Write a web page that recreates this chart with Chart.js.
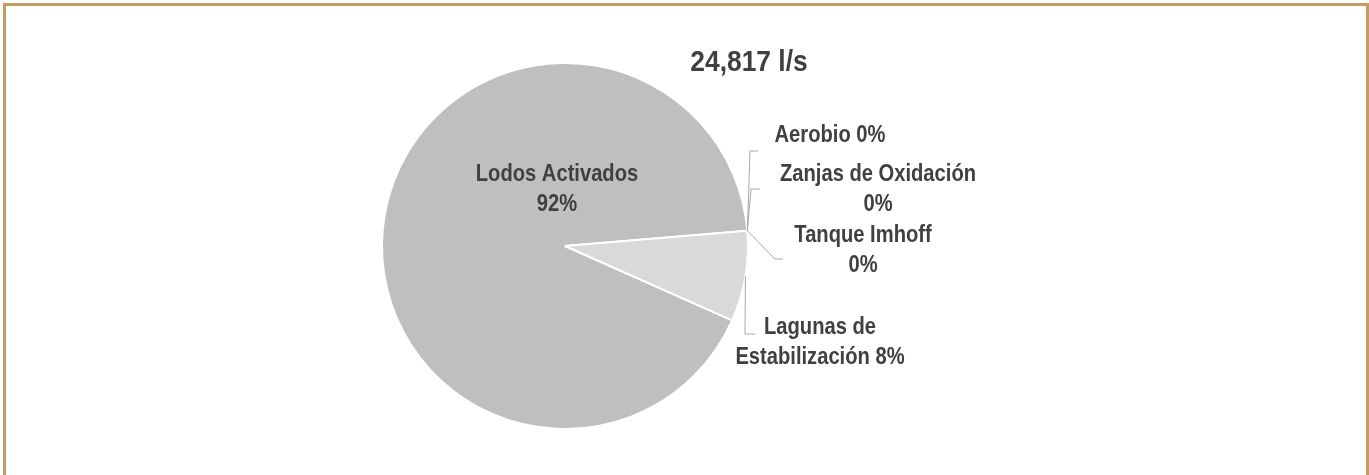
<!DOCTYPE html>
<html>
<head>
<meta charset="utf-8">
<script src="https://cdn.jsdelivr.net/npm/chart.js@4.4.1/dist/chart.umd.min.js"></script>
<style>
  html, body { margin: 0; padding: 0; background: #fff; }
  #wrap { position: relative; width: 1369px; height: 475px; overflow: hidden; }
  #frame {
    position: absolute; left: 3px; top: 3px; width: 1360px; height: 500px;
    border: 3px solid #c49b63; border-bottom: none; pointer-events: none;
  }
  canvas { position: absolute; left: 0; top: 0; }
</style>
</head>
<body>
<div id="wrap">
  <canvas id="pieChart" width="1369" height="475"></canvas>
  <div id="frame"></div>
</div>
<script>
// ---- data ----
const categories = ['Lodos Activados', 'Aerobio', 'Zanjas de Oxidación', 'Tanque Imhoff', 'Lagunas de Estabilización'];
const percentages = [92, 0, 0, 0, 8];
const totalFlow = '24,817 l/s';
// where each label wraps (number of words on the first line, 0 = one line)
const wrapAfter = [2, 0, 3, 2, 2];

const sliceColors = ['#bfbfbf', '#bfbfbf', '#bfbfbf', '#bfbfbf', '#d9d9d9'];
const textColor = '#404040';
const lineColor = '#a6a6a6';
const FONT = '"Liberation Sans", Arial, sans-serif';

// label placement: first-line baseline, offset from the pie centre (px)
const labelPos = [
  { dx: -8, dy: -65 },
  { dx: 265, dy: -104 },
  { dx: 313, dy: -65 },
  { dx: 298, dy: -4 },
  { dx: 255, dy: 88 }
];
// leader elbows (offsets from centre) - null for no leader
const leaders = [
  null,
  [{ dx: 185, dy: -95 }, { dx: 193, dy: -95 }],
  [{ dx: 186, dy: -57 }, { dx: 195, dy: -57 }],
  [{ dx: 210, dy: 13 }, { dx: 218, dy: 13 }],
  [{ dx: 180, dy: 88 }, { dx: 190, dy: 88 }]
];

function labelLines(i) {
  const text = categories[i] + ' ' + percentages[i] + '%';
  const words = text.split(' ');
  if (!wrapAfter[i]) return [text];
  return [words.slice(0, wrapAfter[i]).join(' '), words.slice(wrapAfter[i]).join(' ')];
}

// narrow bold text (Arial Narrow look) by squeezing horizontally
function narrowText(ctx, txt, x, y, sx) {
  ctx.save();
  ctx.translate(x, y);
  ctx.scale(sx, 1);
  ctx.fillText(txt, 0, 0);
  ctx.restore();
}

const pieLabels = {
  id: 'pieLabels',
  afterDatasetsDraw(chart) {
    const ctx = chart.ctx;
    const arcs = chart.getDatasetMeta(0).data;
    const cx = arcs[0].x, cy = arcs[0].y;
    const r = arcs[0].outerRadius;

    ctx.save();
    // leader lines
    ctx.strokeStyle = lineColor;
    ctx.lineWidth = 1;
    arcs.forEach((arc, i) => {
      if (!leaders[i]) return;
      const mid = (arc.startAngle + arc.endAngle) / 2;
      ctx.beginPath();
      ctx.moveTo(cx + Math.cos(mid) * r, cy + Math.sin(mid) * r);
      leaders[i].forEach(p => ctx.lineTo(cx + p.dx, cy + p.dy));
      ctx.stroke();
    });

    // labels
    ctx.fillStyle = textColor;
    ctx.textAlign = 'center';
    ctx.textBaseline = 'alphabetic';
    ctx.font = 'bold 24px ' + FONT;
    arcs.forEach((arc, i) => {
      labelLines(i).forEach((ln, k) => {
        narrowText(ctx, ln, cx + labelPos[i].dx, cy + labelPos[i].dy + k * 30, 0.84);
      });
    });

    // total flow heading
    ctx.font = 'bold 29px ' + FONT;
    narrowText(ctx, totalFlow, cx + 184, cy - 175, 0.91);
    ctx.restore();
  }
};

new Chart(document.getElementById('pieChart').getContext('2d'), {
  type: 'pie',
  data: {
    labels: categories,
    datasets: [{
      data: percentages,
      backgroundColor: sliceColors,
      borderColor: '#ffffff',
      borderWidth: 2
    }]
  },
  options: {
    responsive: false,
    animation: false,
    rotation: 114,
    layout: { padding: { left: 381, right: 620, top: 62, bottom: 45 } },
    plugins: {
      legend: { display: false },
      tooltip: { enabled: false }
    }
  },
  plugins: [pieLabels]
});
</script>
</body>
</html>
